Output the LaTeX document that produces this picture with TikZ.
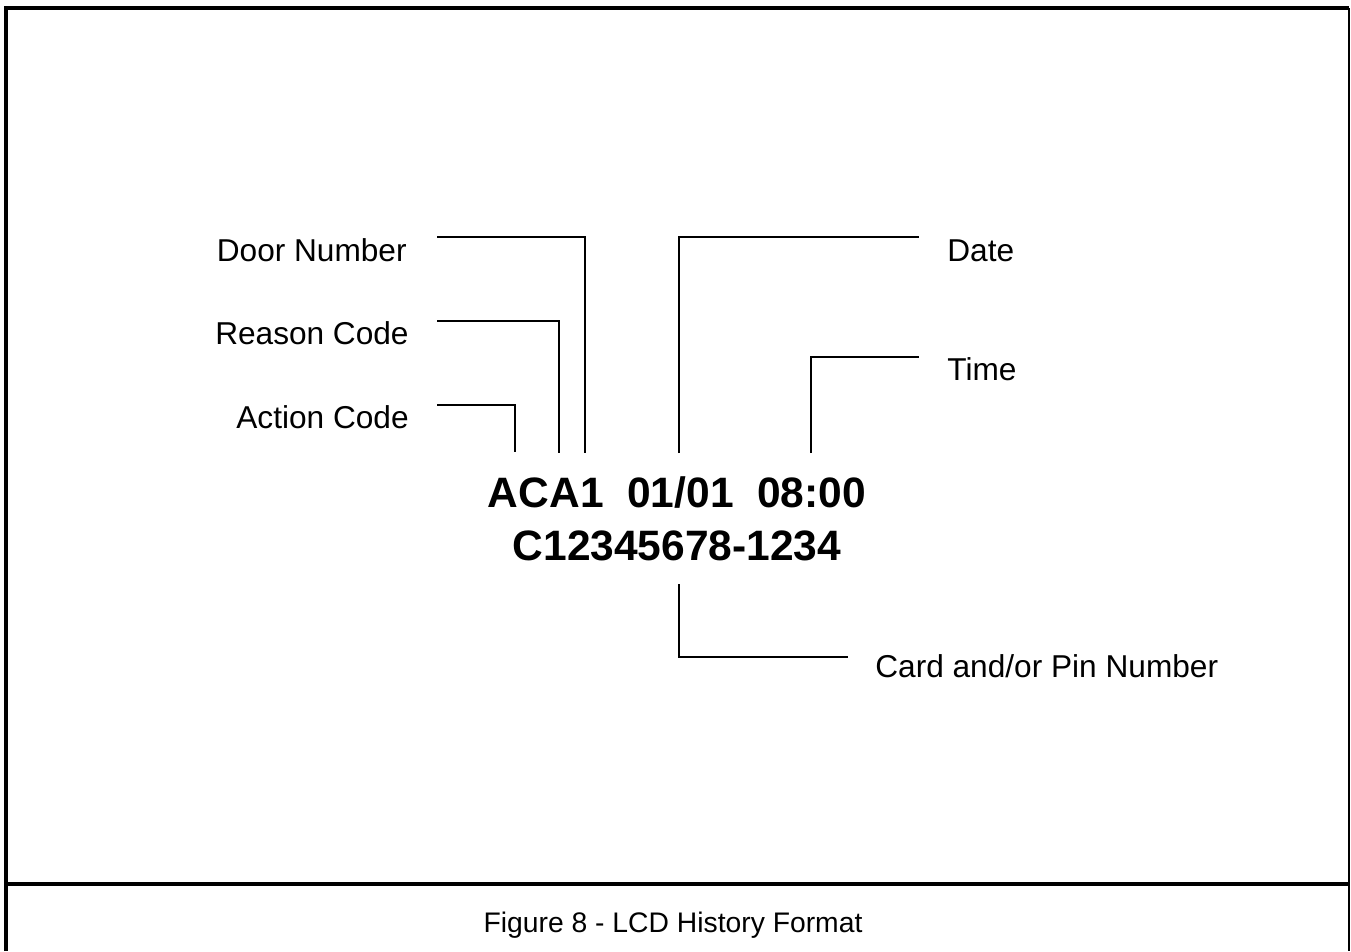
\documentclass[tikz,border=0pt]{standalone}
\usepackage{fontspec}
\setmainfont{Liberation Sans}
\usepackage{tikz}
\usetikzlibrary{positioning}
\tikzset{
  labelnode/.style={inner sep=0pt, font=\fontsize{18}{22}\selectfont},
  captionnode/.style={inner sep=0pt, font=\fontsize{16.1}{20}\selectfont},
  readoutnode/.style={inner sep=0pt, font=\fontsize{24.2}{30}\selectfont\bfseries},
  leaderedge/.style={draw=black, line width=1.15pt},
  frameedge/.style={draw=black, line width=2.4pt},
  thinframe/.style={draw=black, line width=1.15pt},
}

\begin{document}
\begin{tikzpicture}[x=0.02cm, y=-0.02cm]
  \useasboundingbox (0,0) rectangle (1351,951);
  % frame and caption bar
  \coordinate (tl) at (6,8);
  \coordinate (tr) at (1349,8);
  \coordinate (bl) at (6,951);
  \coordinate (br) at (1349,951);
  \coordinate (capl) at (6,884);
  \coordinate (capr) at (1349,884);
  \draw[frameedge] (bl) -- (tl) -- (tr);
  \draw[thinframe] (tr) -- (br);
  \draw[frameedge] (capl) -- (capr);
  % display readout
  \node[readoutnode, anchor=base] (line1) at (677,507) {ACA1\ \ 01/01\ \ 08:00};
  \node[readoutnode, anchor=base] (line2) at (677,560) {C12345678-1234};
  % field labels
  \node[labelnode, anchor=base east] (door) at (407,261) {Door Number};
  \node[labelnode, anchor=base east] (reason) at (409,344) {Reason Code};
  \node[labelnode, anchor=base east] (action) at (409,428) {Action Code};
  \node[labelnode, anchor=base west] (date) at (947,261) {Date};
  \node[labelnode, anchor=base west] (time) at (947,380) {Time};
  \node[labelnode, anchor=base west] (card) at (875,677) {Card and/or Pin Number};
  % leader ends
  \coordinate (doorA) at (437,237);
  \coordinate (doorB) at (585,453);
  \coordinate (reasonA) at (437,321);
  \coordinate (reasonB) at (559,453);
  \coordinate (actionA) at (437,405);
  \coordinate (actionB) at (515,452);
  \coordinate (dateA) at (919,237);
  \coordinate (dateB) at (679,453);
  \coordinate (timeA) at (919,357);
  \coordinate (timeB) at (811,453);
  \coordinate (cardA) at (848,657);
  \coordinate (cardB) at (679,584);
  \draw[leaderedge] (doorA) -| (doorB);
  \draw[leaderedge] (reasonA) -| (reasonB);
  \draw[leaderedge] (actionA) -| (actionB);
  \draw[leaderedge] (dateB) |- (dateA);
  \draw[leaderedge] (timeB) |- (timeA);
  \draw[leaderedge] (cardB) |- (cardA);
  % caption
  \node[captionnode, anchor=base] (caption) at (673,932) {Figure 8 - LCD History Format};
\end{tikzpicture}
\end{document}
